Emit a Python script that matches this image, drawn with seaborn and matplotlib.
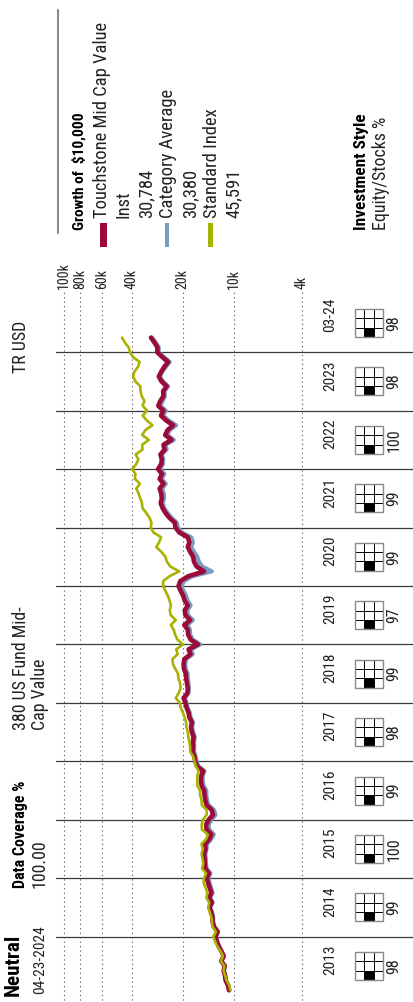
import numpy as np
import pandas as pd
import matplotlib
matplotlib.use("Agg")
import matplotlib.pyplot as plt
from matplotlib.patches import Rectangle
from matplotlib.lines import Line2D
from matplotlib import font_manager as fm
import seaborn as sns

W, H = 414, 1002

# ---- data ----
col_labels = ['2013', '2014', '2015', '2016', '2017', '2018', '2019', '2020', '2021', '2022', '2023', '03-24']
equity_pct = [98, 99, 100, 99, 98, 99, 97, 99, 99, 100, 98, 98]
style_cell = ['MV', 'MV', 'MV', 'MV', 'MV', 'MV', 'MV', 'MV', 'MV', 'MV', 'MV', 'MV']

grid_values = [100000, 80000, 60000, 40000, 20000, 10000, 4000]
grid_labels = ['100k', '80k', '60k', '40k', '20k', '10k', '4k']

# growth of $10,000, month ends Jan 2013 .. Mar 2024
fund = [10700, 10850, 11200, 11300, 11500, 11350, 11900, 11500, 11850, 12300, 12600, 12850,
        12500, 13100, 13350, 13400, 13600, 13950, 13500, 14000, 13600, 13900, 14200, 14450,
        14050, 14750, 14850, 14900, 15000, 14700, 14800, 14000, 13600, 14500, 14600, 14100,
        13300, 13500, 14500, 14750, 14900, 15000, 15500, 15650, 15600, 15200, 16500, 16900,
        17100, 17500, 17400, 17450, 17300, 17700, 17900, 17700, 18300, 18500, 19000, 19300,
        19800, 18800, 18700, 18900, 19100, 19200, 19700, 19800, 19600, 18000, 18500, 16300,
        18000, 18600, 18700, 19600, 18100, 19300, 19500, 18700, 19500, 19900, 20600, 21200,
        20700, 18600, 15000, 16600, 17200, 17400, 18100, 18700, 18300, 18700, 21000, 22100,
        22300, 24000, 25300, 26300, 27000, 26600, 26800, 27400, 26000, 27400, 26500, 28000,
        26800, 26600, 27100, 25600, 26000, 23300, 25400, 24600, 22800, 25100, 26900, 26000,
        27900, 27100, 26000, 26100, 24900, 26700, 27700, 26800, 25700, 24400, 26400, 28300,
        28200, 29400, 30784]

category = [10650, 10800, 11150, 11250, 11500, 11300, 11850, 11450, 11850, 12250, 12550, 12800,
            12400, 13000, 13250, 13250, 13450, 13850, 13350, 13850, 13350, 13650, 13900, 14150,
            13750, 14500, 14600, 14650, 14750, 14500, 14450, 13650, 13150, 14000, 14100, 13600,
            12850, 13100, 14100, 14400, 14550, 14550, 15100, 15300, 15300, 14900, 16200, 16600,
            16800, 17200, 17150, 17200, 17000, 17400, 17650, 17400, 18000, 18200, 18750, 19050,
            19500, 18500, 18400, 18550, 18700, 18750, 19250, 19350, 19150, 17500, 17900, 15800,
            17500, 18100, 18150, 18850, 17450, 18650, 18850, 18000, 18750, 19150, 19850, 20400,
            19700, 17600, 13500, 15400, 16100, 16450, 17200, 17850, 17450, 17850, 20300, 21400,
            21700, 23300, 24600, 25700, 26300, 25800, 25900, 26500, 25200, 26700, 25700, 27300,
            26200, 26100, 26600, 24900, 25300, 22600, 24700, 23900, 21900, 24300, 26100, 25200,
            27100, 26300, 25500, 25600, 24400, 26200, 27300, 26400, 25200, 23900, 25800, 27800,
            27700, 28900, 30380]

index = [10518, 10660, 11060, 11270, 11530, 11380, 11960, 11610, 11970, 12520, 12900, 13240,
         12780, 13370, 13480, 13570, 13890, 14180, 13980, 14540, 14340, 14680, 15080, 15040,
         14590, 15420, 15170, 15320, 15520, 15230, 15550, 14610, 14250, 15450, 15500, 15250,
         14490, 14470, 15460, 15520, 15800, 15850, 16430, 16450, 16450, 16150, 16750, 17080,
         17400, 18100, 18120, 18300, 18560, 18670, 19060, 19120, 19520, 19970, 20590, 20810,
         22000, 21180, 20650, 20730, 21230, 21360, 22150, 22880, 23010, 21450, 21880, 19910,
         21500, 22190, 22610, 23520, 22010, 23550, 23880, 23500, 23950, 24470, 25350, 26110,
         26100, 23970, 21000, 23690, 24830, 25320, 26740, 28660, 27570, 26830, 29750, 30880,
         30570, 31430, 32810, 34550, 34790, 35590, 36440, 37540, 35770, 38280, 38010, 39720,
         37650, 36520, 37870, 34580, 34650, 31740, 34660, 33240, 30180, 32620, 34450, 32450,
         34490, 33660, 34910, 35470, 35610, 37960, 39180, 38550, 36700, 35930, 39200, 40960,
         41660, 43870, 45591]

legend_names = ['Touchstone Mid Cap Value', 'Category Average', 'Standard Index']
legend_values = ['30,784', '30,380', '45,591']

RED, BLUE, GREEN = '#9b0a38', '#7b9bc0', '#a8b300'

# ---- fonts ----
sns.set_theme(style='white')
installed = {f.name for f in fm.fontManager.ttflist}
if 'Liberation Sans Narrow' in installed:
    FONT, K = 'Liberation Sans Narrow', 1.0
elif 'Roboto Condensed' in installed:
    FONT, K = 'Roboto Condensed', 0.92
else:
    FONT, K = 'DejaVu Sans', 0.72
plt.rcParams['font.family'] = [FONT, 'DejaVu Sans']

# ---- pixel geometry helpers ----
PX_YEAR = 58.45      # pixels per year along the (rotated) time axis
Y2014 = 936.7        # pixel row of the 2014 boundary


def t_of(py):
    return 2014 + (Y2014 - py) / PX_YEAR


def v_of(px):
    return 1e4 * 10 ** ((234 - px) / 170.0)


TOP = 293.25
fig = plt.figure(figsize=(W / 100, H / 100), dpi=100)
rect = [56 / W, 0, (W - 56) / W, (H - TOP) / H]
ax = fig.add_axes(rect)
ax.set_xscale('log')
ax.set_xlim(v_of(56), v_of(414))
ax.set_ylim(t_of(H), t_of(TOP))
ax.axis('off')

# dotted value gridlines + labels
ax.vlines(grid_values, t_of(1000), t_of(292), colors='#4a4a4a',
          linestyles=(0, (1, 3)), lw=0.8, clip_on=False, zorder=1)
for v, lab in zip(grid_values, grid_labels):
    ax.text(v, t_of(289), lab, rotation=90, rotation_mode='anchor', ha='left',
            va='center', fontsize=11 * K, color='#222222', clip_on=False)

# year boundaries
for yr in range(2014, 2025):
    ax.axhline(yr, color='#3a3a3a', lw=0.9, zorder=2)

# growth lines
dates = pd.date_range('2013-01-31', periods=len(fund), freq='ME')
tt = dates.year + dates.month / 12.0
df = pd.DataFrame({'t': tt, 'fund': fund, 'category': category, 'index': index})
sns.lineplot(data=df, x='category', y='t', orient='y', estimator=None, color=BLUE,
             lw=3.0, ax=ax, zorder=3, solid_joinstyle='round')
sns.lineplot(data=df, x='fund', y='t', orient='y', estimator=None, color=RED,
             lw=3.3, ax=ax, zorder=4, solid_joinstyle='round')
sns.lineplot(data=df, x='index', y='t', orient='y', estimator=None, color=GREEN,
             lw=1.9, ax=ax, zorder=5, solid_joinstyle='round')
ax.axis('off')

# ---- bottom table (years, style boxes, equity %) ----
tab = fig.add_axes(rect, sharey=ax)
tab.set_xlim(56, 414)
tab.axis('off')
tab.patch.set_visible(False)
box_h = 28 / PX_YEAR
cell_w, cell_h = 28 / 3, box_h / 3
for i, (lab, pct, sc) in enumerate(zip(col_labels, equity_pct, style_cell)):
    y0 = 2013 + i
    tc = y0 + 0.5
    tab.text(330, y0 + 20 / PX_YEAR, lab, rotation=90, rotation_mode='anchor',
             ha='left', va='center', fontsize=12 * K, color='#222222')
    tab.text(394, tc, str(pct), rotation=90, rotation_mode='anchor',
             ha='center', va='center', fontsize=12.5 * K, color='#222222')
    bx, by = 355, tc - box_h / 2
    # filled cell: middle column (size), lowest row (value)
    col = {'MV': 1}[sc]
    tab.add_patch(Rectangle((bx + col * cell_w, by), cell_w, cell_h, fc='black', ec='none', zorder=3))
    for k in (1, 2):
        tab.plot([bx + k * cell_w] * 2, [by, by + box_h], color='black', lw=0.7, zorder=4)
        tab.plot([bx, bx + 28], [by + k * cell_h] * 2, color='black', lw=0.7, zorder=4)
    tab.add_patch(Rectangle((bx, by), 28, box_h, fc='none', ec='#8a8a8a', lw=1.0, zorder=5))


# ---- header / legend text (all rotated) ----
def ftext(px, py, s, size, bold=False, color='#222222'):
    fig.text(px / W, 1 - py / H, s, rotation=90, rotation_mode='anchor', ha='left',
             va='center', fontsize=size * K, fontweight='bold' if bold else 'normal', color=color)


ftext(13, 996, 'Neutral', 16.5, bold=True, color='black')
ftext(40, 994, '04-23-2024', 12)
ftext(21, 888, 'Data Coverage %', 12.5, bold=True, color='black')
ftext(40, 888, '100.00', 14)
ftext(21, 730, '380 US Fund Mid-', 14)
ftext(40, 730, 'Cap Value', 14)
ftext(21, 373, 'TR USD', 14)

ftext(79, 230, 'Growth of  $10,000', 12, bold=True, color='black')
ftext(102, 218, legend_names[0], 14.5)
ftext(124, 218, 'Inst', 14.5)
ftext(146, 218, legend_values[0], 14.5)
ftext(168, 218, legend_names[1], 14.5)
ftext(190, 218, legend_values[1], 14.5)
ftext(212, 218, legend_names[2], 14.5)
ftext(234, 218, legend_values[2], 14.5)

for px, w, c in [(100, 7, RED), (165, 4, BLUE), (208, 5, GREEN)]:
    fig.add_artist(Rectangle((px / W, 1 - 247 / H), w / W, 24 / H,
                             transform=fig.transFigure, fc=c, ec='none'))

ftext(362, 230, 'Investment Style', 13.5, bold=True, color='black')
ftext(381, 230, 'Equity/Stocks %', 14)

fig.add_artist(Line2D([58 / W, 58 / W], [1 - 10 / H, 1 - 233 / H],
                      transform=fig.transFigure, color='#8a8a8a', lw=1.5))
fig.add_artist(Line2D([413 / W, 413 / W], [1 - 10 / H, 1 - 232 / H],
                      transform=fig.transFigure, color='#4a4a4a', lw=0.8, ls=(0, (1, 3))))

fig.savefig('out.png', dpi=100)
